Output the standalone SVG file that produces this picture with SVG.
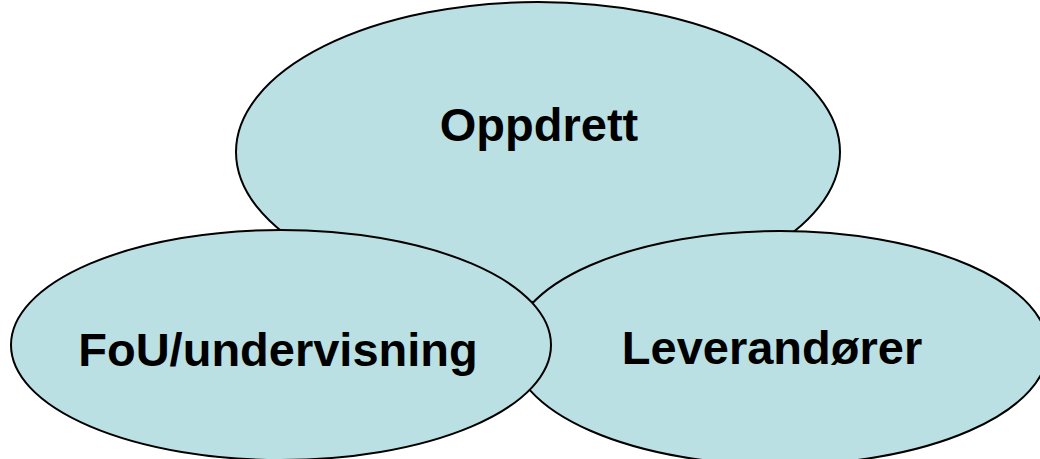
<svg xmlns="http://www.w3.org/2000/svg" width="1040" height="459" viewBox="0 0 1040 459">
<style>
.node ellipse{fill:#bbe0e3;stroke:#000;stroke-width:2}
.node text{font-family:"Liberation Sans",Arial,sans-serif;font-weight:bold;font-size:47px;fill:#000;text-anchor:middle}
</style>
<rect width="1040" height="459" fill="#fff"/>
<g id="connectors"></g>
<g id="oppdrett" class="node">
<ellipse cx="538" cy="152" rx="302" ry="150"/>
<text x="539" y="141">Oppdrett</text>
</g>
<g id="leverandorer" class="node">
<ellipse cx="780" cy="348" rx="268" ry="117"/>
<text x="772" y="364">Leverandører</text>
</g>
<g id="fou" class="node">
<ellipse cx="281" cy="345" rx="270" ry="115"/>
<text x="278" y="366">FoU/undervisning</text>
</g>
</svg>
